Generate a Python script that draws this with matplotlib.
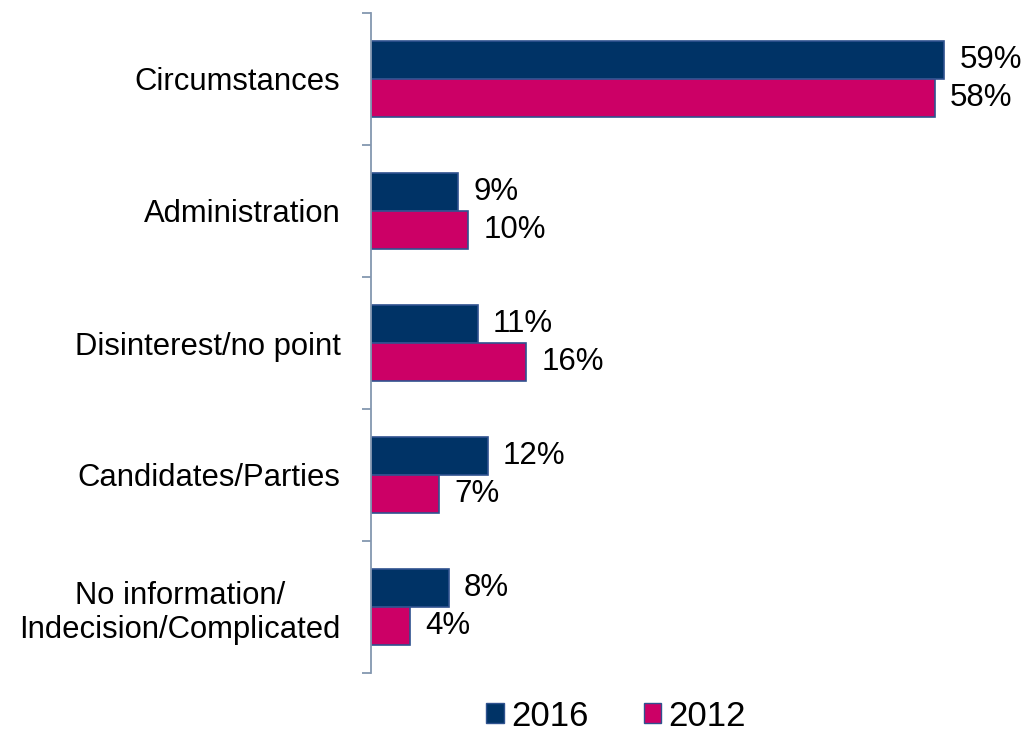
import numpy as np
import matplotlib.pyplot as plt
from matplotlib.patches import Patch

plt.rcParams['font.family'] = ['Liberation Sans', 'DejaVu Sans']

categories = ["Circumstances", "Administration", "Disinterest/no point",
              "Candidates/Parties", "No information/\nIndecision/Complicated"]
values_2016 = [59, 9, 11, 12, 8]
values_2012 = [58, 10, 16, 7, 4]
series_names = ["2016", "2012"]

navy = "#003366"
magenta = "#CC0066"
edge = "#2F528F"
axis_col = "#8497B0"

fig = plt.figure(figsize=(10.27, 7.33), dpi=100)
ax = fig.add_axes([371 / 1027, 1 - 673 / 733, (954 - 371) / 1027, (673 - 13) / 733])

y = np.arange(len(categories))
h = 0.29
bars_a = ax.barh(y - h / 2, values_2016, height=h, color=navy, edgecolor=edge, linewidth=1.2)
bars_b = ax.barh(y + h / 2, values_2012, height=h, color=magenta, edgecolor=edge, linewidth=1.2)

# percent labels right of each bar
for bars, vals in [(bars_a, values_2016), (bars_b, values_2012)]:
    for b, v in zip(bars, vals):
        ax.annotate(f"{v}%", (b.get_width(), b.get_y() + b.get_height() / 2),
                    xytext=(15, 0), textcoords="offset pixels",
                    va="center", ha="left", fontsize=22.5, color="black")

ax.set_xlim(0, 60)
ax.set_ylim(len(categories) - 0.5, -0.5)
ax.set_yticks(y)
ax.set_yticklabels(categories, fontsize=22.3, ha="right", multialignment="center")
ax.tick_params(axis="y", which="major", length=0, pad=22)
ax.set_yticks(np.arange(-0.5, len(categories)), minor=True)
ax.tick_params(axis="y", which="minor", length=6.5, width=1.3, color=axis_col)
ax.set_xticks([])
for s in ["top", "right", "bottom"]:
    ax.spines[s].set_visible(False)
ax.spines["left"].set_color(axis_col)
ax.spines["left"].set_linewidth(1.3)

handles = [Patch(facecolor=navy, edgecolor=edge), Patch(facecolor=magenta, edgecolor=edge)]
fig.legend(handles, series_names, loc="center", bbox_to_anchor=(616 / 1027, 1 - 716 / 733),
           ncol=2, frameon=False, fontsize=25, handlelength=0.5, handleheight=0.5,
           handletextpad=0.2, columnspacing=1.6)

fig.savefig("out.png", dpi=100)
